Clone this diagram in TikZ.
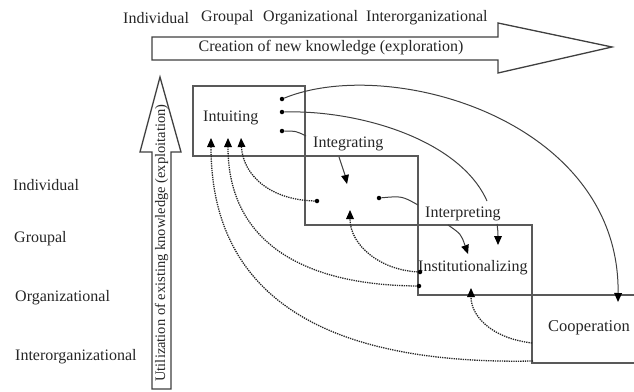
\documentclass[tikz,border=0pt]{standalone}
\usepackage{fontspec}
\setmainfont{Liberation Serif}
\usetikzlibrary{arrows.meta}
\begin{document}
\begin{tikzpicture}[x=1pt,y=-1pt,
  lbl/.style={font=\fontsize{16}{18}\selectfont, text=black!85, inner sep=0pt},
  frame/.style={draw=black!65, line width=1.1pt},
  bigarrow/.style={draw=black!75, line width=1.3pt, fill=white, line join=miter},
  dotnode/.style={circle, fill=black, inner sep=0pt, minimum size=4.5pt},
  tip/.tip={Triangle[length=9pt,width=8pt,fill=black,line width=0pt]},
  flow/.style={draw=black!75, line width=1pt, -tip},
  ret/.style={draw=black!85, line width=1.3pt, densely dotted, -tip},
  plain/.style={draw=black!75, line width=1pt}]
\useasboundingbox (0,0) rectangle (634,391);

% big arrows
\draw[bigarrow] (152,37) -- (498,37) -- (498,23) -- (612,47) -- (498,73) -- (498,60) -- (152,60) -- cycle;
\draw[bigarrow] (160,77) -- (181,152) -- (171,152) -- (171,389) -- (152,389) -- (152,152) -- (140,152) -- cycle;
\node[lbl] (creation) at (331,48) {Creation of new knowledge (exploration)};
\node[lbl, font=\fontsize{14.5}{17}\selectfont, rotate=90] (util) at (161.5,243) {Utilization of existing knowledge (exploitation)};

% top labels
\node[lbl, anchor=west] (tind) at (123,18) {Individual};
\node[lbl, anchor=west] (tgrp) at (201,18) {Groupal};
\node[lbl, anchor=west] (torg) at (263,18) {Organizational};
\node[lbl, anchor=west] (tint) at (366,18) {Interorganizational};

% left labels
\node[lbl, anchor=west] (lind) at (13,185) {Individual};
\node[lbl, anchor=west] (lgrp) at (14,239) {Groupal};
\node[lbl, anchor=west] (lorg) at (15,298) {Organizational};
\node[lbl, anchor=west] (lint) at (15,357) {Interorganizational};

% boxes
\draw[frame] (193,86) rectangle (305,156);
\draw[frame] (305,156) rectangle (418,225);
\draw[frame] (418,225) rectangle (532,295);
\draw[frame] (634,295) -- (532,295) -- (532,363) -- (634,363);

% box labels
\node[lbl, anchor=west] (intu) at (203,118) {Intuiting};
\node[lbl, anchor=west] (inte) at (313,144) {Integrating};
\node[lbl, anchor=west] (inter) at (425,214) {Interpreting};
\node[lbl, anchor=west] (inst) at (418,268) {Institutionalizing};
\node[lbl, anchor=west, font=\fontsize{16.5}{18}\selectfont] (coop) at (548,328) {Cooperation};

% dots
\node[dotnode] (a1) at (282,99) {};
\node[dotnode] (a2) at (282,112) {};
\node[dotnode] (a3) at (282,131) {};
\node[dotnode] (b1) at (317,201) {};
\node[dotnode] (b2) at (379,198) {};
\node[dotnode] (c1) at (420,272) {};
\node[dotnode] (c2) at (419,286) {};
\coordinate (d1) at (532,343);
\coordinate (d2) at (533,361);

% arrow tip points
\coordinate (t1) at (241,138);
\coordinate (t2) at (228,138);
\coordinate (t3) at (211,138);
\coordinate (t4) at (347,184);
\coordinate (t5) at (350,210);
\coordinate (t6) at (468,254);
\coordinate (t7) at (498,245);
\coordinate (t8) at (471,288);
\coordinate (t9) at (618,302);

% label contact points
\coordinate (inteW) at (306,136);
\coordinate (inteS) at (339,157);
\coordinate (interN) at (487,201);
\coordinate (interW) at (418,205);
\coordinate (interS1) at (448,225);
\coordinate (interS2) at (497,224);

% solid flows
\draw[flow] (a1) .. controls (390,55) and (620,120) .. (t9);
\draw[plain] (a2) .. controls (360,110) and (460,140) .. (interN);
\draw[flow] (interS2) .. controls (498,232) .. (t7);
\draw[plain] (a3) .. controls (296,131) .. (inteW);
\draw[flow] (inteS) .. controls (343,166) .. (t4);
\draw[plain] (b2) .. controls (402,196) .. (interW);
\draw[flow] (interS1) .. controls (461,234) .. (t6);

% dotted feedback
\draw[ret] (b1) .. controls (270,200) and (243,175) .. (t1);
\draw[ret] (c1) .. controls (380,270) and (350,245) .. (t5);
\draw[ret] (c2) .. controls (300,285) and (228,240) .. (t2);
\draw[ret] (d1) .. controls (490,338) and (471,315) .. (t8);
\draw[ret] (d2) .. controls (330,365) and (211,300) .. (t3);
\end{tikzpicture}
\end{document}
